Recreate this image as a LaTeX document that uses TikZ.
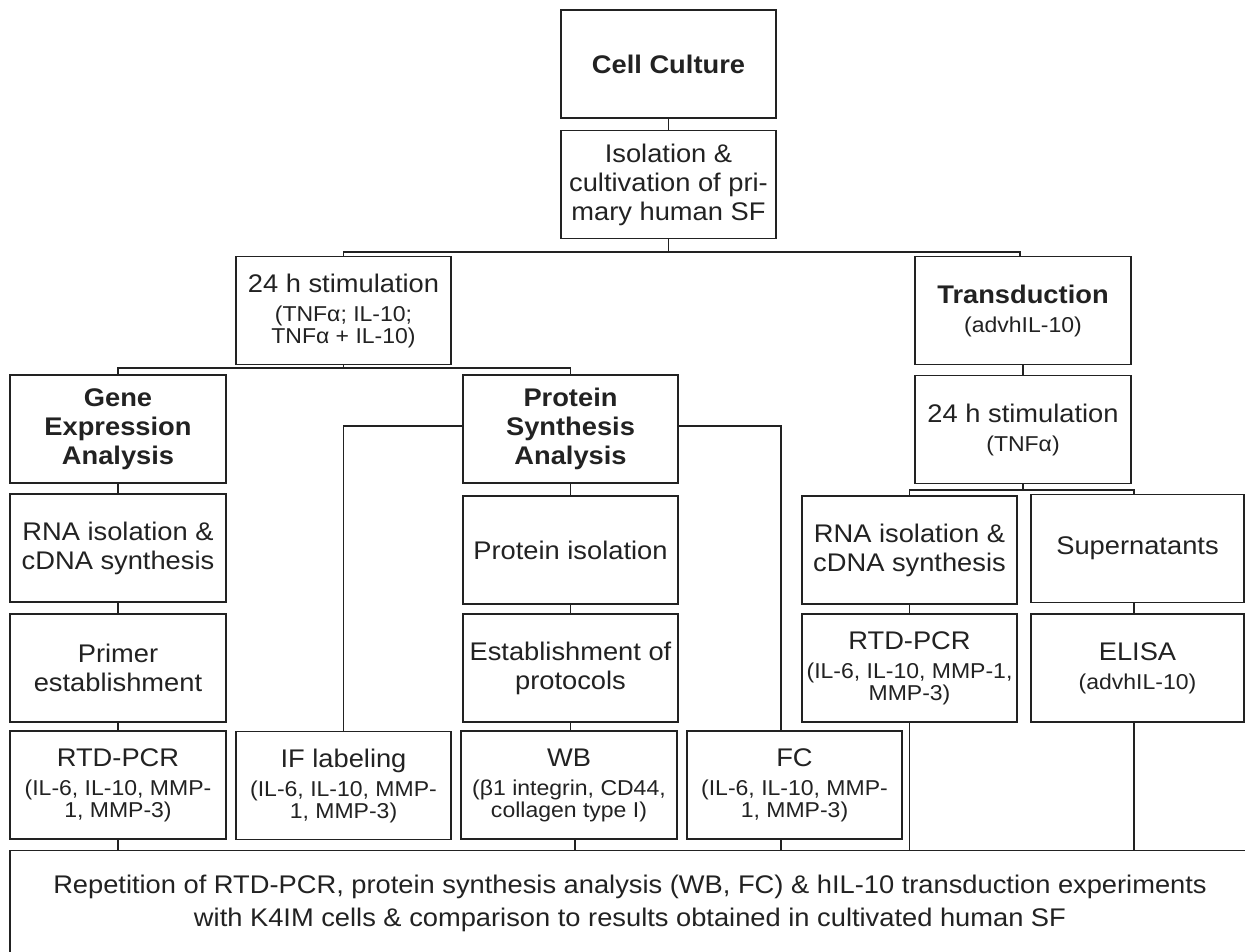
\documentclass[tikz,border=0pt]{standalone}
\usepackage{fontspec}
\setmainfont{Liberation Sans}[FakeStretch=1.07]
\definecolor{linec}{HTML}{222222}
\definecolor{textc}{HTML}{222222}
\newcommand{\smallt}{\fontsize{21.5}{22}\selectfont}
\tikzset{
  box/.style={draw=linec, line width=1.5pt, minimum width=215pt, minimum height=108pt,
    align=center, inner sep=2pt, text=textc, font=\fontsize{25.5}{29}\selectfont},
  conn/.style={draw=linec, line width=1.3pt}
}
\begin{document}
\begin{tikzpicture}[x=1pt,y=-1pt]
\useasboundingbox (0,0) rectangle (1245,952);
\clip (0,0) rectangle (1245,952);
\fill[white] (0,0) rectangle (1245,952);
% nodes
\node[box] (cc) at (668.5,64) {\textbf{Cell Culture}};
\node[box] (iso) at (668.5,184.5) {Isolation \&\\cultivation of pri-\\mary human SF};
\node[box] (stim1) at (343.5,310.5) {24 h stimulation\\\smallt (TNFα; IL-10;\\[-7pt]\smallt TNFα + IL-10)};
\node[box,minimum width=216pt] (trans) at (1023,310.5) {\textbf{Transduction}\\\smallt (advhIL-10)};
\node[box,minimum width=216pt] (gene) at (118,429) {\textbf{Gene}\\\textbf{Expression}\\\textbf{Analysis}};
\node[box] (prot) at (570.5,429) {\textbf{Protein}\\\textbf{Synthesis}\\\textbf{Analysis}};
\node[box,minimum width=216pt] (stim2) at (1023,429.5) {24 h stimulation\\\smallt (TNFα)};
\node[box,minimum width=216pt] (rna1) at (118,548) {RNA isolation \&\\cDNA synthesis};
\node[box] (pis) at (570.5,550) {Protein isolation};
\node[box] (rna2) at (909.5,550) {RNA isolation \&\\cDNA synthesis};
\node[box,minimum width=213pt] (sup) at (1137.5,548.5) {Supernatants};
\node[box,minimum width=216pt] (primer) at (118,668) {Primer\\establishment};
\node[box] (est) at (570.5,668) {Establishment of\\protocols};
\node[box] (rtd2) at (909.5,668) {RTD-PCR\\\smallt (IL-6, IL-10, MMP-1,\\[-7pt]\smallt MMP-3)};
\node[box,minimum width=213pt] (elisa) at (1137.5,668) {ELISA\\\smallt (advhIL-10)};
\node[box,minimum width=216pt] (rtd1) at (118,785) {RTD-PCR\\\smallt (IL-6, IL-10, MMP-\\[-7pt]\smallt 1, MMP-3)};
\node[box] (ifl) at (343.5,785.5) {IF labeling\\\smallt (IL-6, IL-10, MMP-\\[-7pt]\smallt 1, MMP-3)};
\node[box,minimum width=216pt] (wb) at (569,785) {WB\\\smallt (β1 integrin, CD44,\\[-7pt]\smallt collagen type I)};
\node[box] (fc) at (794.5,785) {FC\\\smallt (IL-6, IL-10, MMP-\\[-7pt]\smallt 1, MMP-3)};
\node[box,minimum width=1240pt,minimum height=105pt] (fin) at (630,903)
  {Repetition of RTD-PCR, protein synthesis analysis (WB, FC) \& hIL-10 transduction experiments\\[4pt]with K4IM cells \& comparison to results obtained in cultivated human SF};
% bus coordinates
\coordinate (b1) at (668.5,252);
\coordinate (b2) at (343.5,368);
\coordinate (b3) at (1023,490);
% connectors
\draw[conn] (cc) -- (iso);
\draw[conn] (iso.south) -- (b1);
\draw[conn] (stim1.north) |- (b1);
\draw[conn] ([xshift=-3pt]trans.north) |- (b1);
\draw[conn] (stim1.south) -- (b2);
\draw[conn] (gene.north) |- (b2);
\draw[conn] (prot.north) |- (b2);
\draw[conn] (gene) -- (rna1);
\draw[conn] (rna1) -- (primer);
\draw[conn] (primer) -- (rtd1);
\draw[conn] (prot) -- (pis);
\draw[conn] (pis) -- (est);
\draw[conn] (est.south) -- (est.south |- wb.north);
\draw[conn] ([yshift=3pt]prot.west) -| (ifl.north);
\draw[conn] ([yshift=3pt]prot.east) -| ([xshift=-13.5pt]fc.north);
\draw[conn] (trans) -- (stim2);
\draw[conn] (stim2.south) -- (b3);
\draw[conn] (rna2.north) |- (b3);
\draw[conn] ([xshift=-3.5pt]sup.north) |- (b3);
\draw[conn] (rna2) -- (rtd2);
\draw[conn] ([xshift=-3.5pt]sup.south) -- ([xshift=-3.5pt]elisa.north);
\draw[conn] (rtd1.south) -- (rtd1.south |- fin.north);
\draw[conn] ([xshift=6pt]wb.south) -- ([xshift=6pt]wb.south |- fin.north);
\draw[conn] ([xshift=-13.5pt]fc.south) -- ([xshift=-13.5pt]fc.south |- fin.north);
\draw[conn] (rtd2.south) -- (rtd2.south |- fin.north);
\draw[conn] ([xshift=-3.5pt]elisa.south) -- ([xshift=-3.5pt]elisa.south |- fin.north);
\end{tikzpicture}
\end{document}
